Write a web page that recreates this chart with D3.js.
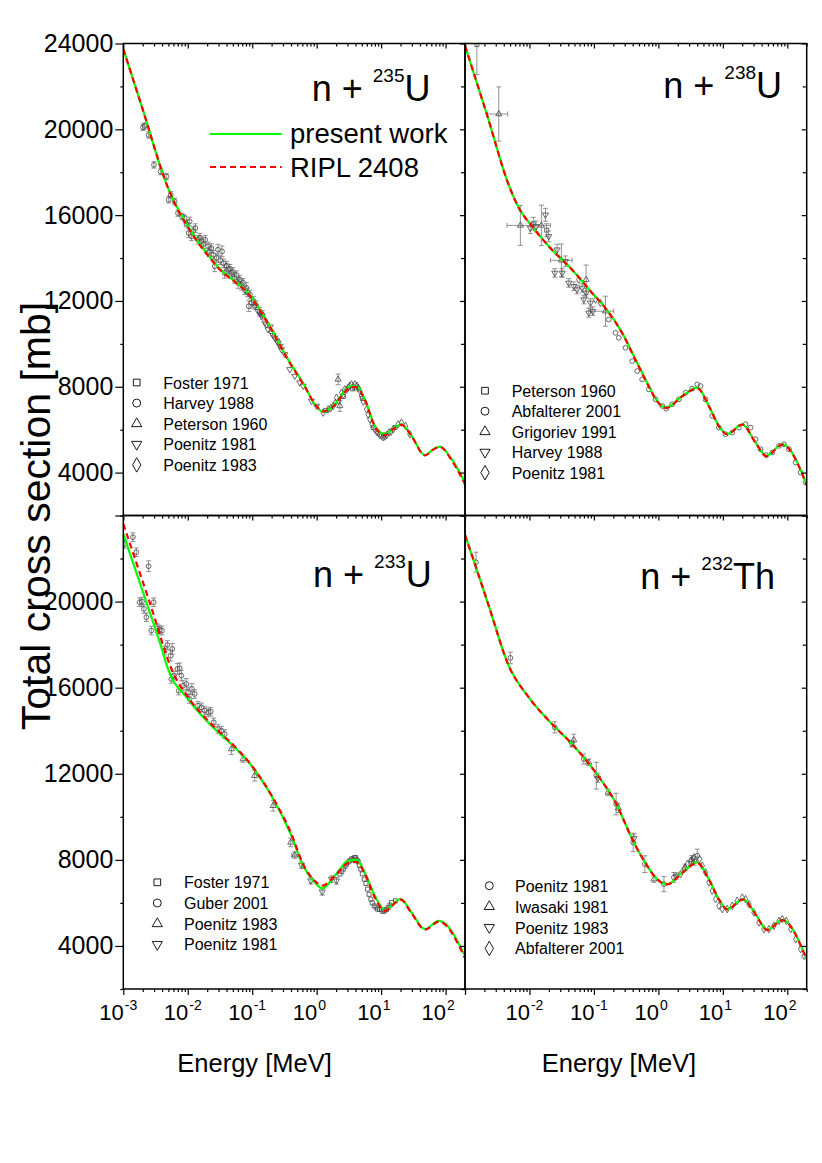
<!DOCTYPE html>
<html><head><meta charset="utf-8">
<script src="https://cdn.jsdelivr.net/npm/d3@7"></script>
<style>body{margin:0;background:#fff} text{font-family:"Liberation Sans",Arial,sans-serif}</style>
</head><body>
<svg id="c" width="822" height="1163"></svg>
<script>
// ---------- axis tick values ----------
const yMajorTicks = [4000, 8000, 12000, 16000, 20000, 24000];
const yMinorTicks = [2000, 6000, 10000, 14000, 18000, 22000];
const xDecadesLeft = [-3, -2, -1, 0, 1, 2];
const xDecadesRight = [-2, -1, 0, 1, 2];

// ---------- n + 235U ----------
const u235_present = [[0.001,23750],[0.002,20930],[0.0049,17300],[0.0065,16500],[0.01,15500],[0.0296,13585],[0.0973,12190],[0.176,10980],[0.36,9275],[0.655,8035],[0.936,7180],[1.26,6826],[1.9,7180],[2.74,7800],[3.3,8035],[4.1,8035],[5.58,7415],[8.0,6175],[11.4,5790],[16.3,6100],[20.7,6250],[29.6,5710],[47.7,4811],[64.4,5090],[81.7,5214],[124,4625],[200,3540]];
const u235_ripl = [[0.001,23750],[0.002,20930],[0.0049,17300],[0.0065,16450],[0.01,15450],[0.0296,13550],[0.0973,12150],[0.176,10950],[0.36,9250],[0.655,8000],[0.936,7200],[1.26,6850],[1.9,7150],[2.74,7750],[3.3,7980],[4.1,7980],[5.58,7400],[8.0,6150],[11.4,5750],[16.3,6080],[20.7,6230],[29.6,5700],[47.7,4800],[64.4,5070],[81.7,5200],[124,4580],[200,3450]];
const u235_foster1971 = [[1.4,6900],[2.6,7550],[3.6,7900],[4.1,7950],[5.1,7450],[7.5,6100],[11.0,5750],[16.5,6100]];
const u235_harvey1988 = [[0.00202,20094,150],[0.00214,20156,150],[0.00247,19737,150],[0.00299,18342,150],[0.0038,18032,150],[0.00466,17800,150],[0.00506,16715,150],[0.00543,16947,150],[0.00627,16637,150],[0.00706,16095,150],[0.00815,15940,150],[0.00895,15862,150],[0.0095,15600,150],[0.0103,15165,200],[0.0107,15707,200],[0.0114,15010,200],[0.0122,15250,200],[0.0131,15397,200],[0.0144,14855,200],[0.0155,14950,200],[0.0163,14777,200],[0.0175,14650,200],[0.0187,14855,200],[0.0207,14545,200],[0.022,14300,200],[0.0232,14467,200],[0.025,14150,200],[0.0262,13615,250],[0.028,14000,200],[0.0295,14390,250],[0.032,13900,200],[0.034,14312,250],[0.036,13750,200],[0.0374,13305,250],[0.04,13650,200],[0.0422,13460,250],[0.045,13500,200],[0.0475,13305,250],[0.05,13350,200],[0.0536,13072,250],[0.057,13200,200],[0.0604,12840,250],[0.064,13000,200],[0.0679,12762,250],[0.072,12850,200],[0.077,12500,200],[0.0813,12607,250],[0.085,12400,200],[0.0883,11755,250],[0.092,12300,200],[0.0973,11910,250],[0.105,12000,200],[0.115,11800,200],[0.13,11500,200],[0.145,11350,200]];
const u235_peterson1960 = [[2.15,8345,250],[2.29,7105,250]];
const u235_poenitz1981 = [[0.109,11755],[0.123,11522],[0.135,11400],[0.139,11290],[0.157,10980],[0.165,10900],[0.176,10670],[0.19,10800],[0.199,10515],[0.21,10400],[0.224,10282],[0.24,10150],[0.252,10050],[0.27,9900],[0.284,9740],[0.32,9507],[0.383,8810],[0.457,8500],[0.547,8190],[0.617,8035],[0.83,7337],[0.993,7105]];
const u235_poenitz1983 = [[1.26,6795],[1.51,6950],[1.65,7000],[1.8,7105],[1.95,7250],[2.03,7492],[2.2,7350],[2.43,7725],[2.55,7600],[2.73,7880],[2.9,7850],[3.08,7957],[3.25,8050],[3.47,8112],[3.7,8000],[3.91,8112],[4.2,8050],[4.4,7957],[4.7,7800],[4.96,7570],[5.3,7300],[5.93,6950],[6.3,6700],[6.68,6485],[7.2,6250],[8.0,6020],[8.5,5900],[9.0,5865],[9.5,5750],[10.1,5710],[10.7,5650],[11.4,5679],[12.2,5750],[13.2,5865],[14.2,5900],[15.4,6020],[18.4,6252],[20.7,6330],[23.9,6175],[27.9,5787]];

// ---------- n + 238U ----------
const u238_present = [[0.001,23900],[0.0022,20668],[0.00476,17413],[0.00665,16405],[0.011,15475],[0.0211,14468],[0.0458,13460],[0.0937,12375],[0.151,11678],[0.274,10515],[0.442,9275],[0.711,8035],[0.957,7337],[1.32,7027],[2.34,7570],[4.0,7957],[6.08,7105],[8.7,6175],[11.7,5790],[20,6253],[32.2,5400],[47.2,4780],[83.6,5322],[200,3440]];
const u238_ripl = [[0.001,23900],[0.0022,20668],[0.00476,17413],[0.00665,16405],[0.011,15475],[0.0211,14468],[0.0458,13460],[0.0937,12375],[0.151,11660],[0.274,10500],[0.442,9250],[0.711,8010],[0.957,7320],[1.32,7010],[2.34,7550],[4.0,7930],[6.08,7090],[8.7,6160],[11.7,5780],[20,6240],[32.2,5390],[47.2,4770],[83.6,5300],[200,3420]];
const u238_peterson1960 = [[0.00153,23950,1400],[0.0115,15600,300],[0.0185,15300,300]];
const u238_abfalterer2001 = [[0.17,11135],[0.216,10515],[0.243,10282],[0.309,9817],[0.392,9197],[0.469,8732],[0.56,8345],[0.711,7880],[0.902,7415],[1.15,7105],[1.32,6981],[1.64,7183],[2.08,7415],[2.64,7725],[3.35,7911],[4.0,8112],[4.51,8035],[5.39,7415],[6.84,6640],[8.68,6098],[11.0,5788],[14.0,5865],[17.8,6098],[22.5,6253],[27.0,6098],[32.2,5555],[38.5,5090],[47.2,4811],[58.5,4935],[74.3,5245],[88.8,5323],[106,5090],[135,4470],[161,4005],[193,3540]];
const u238_grigoriev1991 = [[0.00334,20714,1263,0.0022,0.0046],[0.00723,15522,930,0.00449,0.01164],[0.0153,15522,940,0.011,0.0211],[0.0313,13894,760,0.0211,0.0459],[0.0757,12995,680],[0.151,11523,700,0.0883,0.203]];
const u238_harvey1988 = [[0.0103,15397,250],[0.0127,15475,250],[0.0177,16017,300],[0.0199,15010,250],[0.0268,14390,250],[0.0247,13305,200],[0.0321,13305,200],[0.0361,13848,250],[0.0407,12840,200],[0.0487,12685,200],[0.0548,12530,200],[0.0656,12607,200],[0.0697,12065,200],[0.0757,12375,200],[0.0832,11445,200],[0.0883,11910,200],[0.096,11523,200]];
const u238_poenitz1981 = [[0.0582,12995],[0.106,12065],[0.126,11910]];

// ---------- n + 233U ----------
const u233_present = [[0.001,23148],[0.00228,19970],[0.00389,17878],[0.00494,16870],[0.0101,15475],[0.0262,14080],[0.0475,13382],[0.0973,12375],[0.199,10980],[0.406,9120],[0.617,7725],[0.936,6950],[1.22,6671],[1.91,7260],[3.08,7957],[4.15,8004],[5.58,7415],[8.0,6330],[11.4,5680],[20.2,6175],[29.6,5555],[47.7,4780],[78.9,5168],[200,3540]];
const u233_ripl = [[0.001,23613],[0.00256,19970],[0.0059,16715],[0.0101,15553],[0.0206,14468],[0.0296,14000],[0.0475,13420],[0.0973,12400],[0.199,11000],[0.406,9200],[0.617,7800],[0.936,7020],[1.22,6800],[1.91,7250],[3.08,7850],[4.15,7900],[5.58,7350],[8.0,6250],[11.4,5640],[20.2,6150],[29.6,5520],[47.7,4760],[78.9,5130],[200,3430]];
const u233_foster1971 = [[2.29,7338],[2.45,7450],[2.58,7570],[2.75,7700],[2.9,7803],[3.1,7900],[3.27,7958],[3.5,8050],[3.68,8035],[3.85,8100],[4.0,8113],[4.2,8000],[4.4,7911],[4.6,7750],[4.84,7570],[5.1,7350],[5.46,7105],[5.8,6900],[6.15,6640],[6.5,6400],[6.93,6175],[7.3,6000],[7.8,5865],[8.3,5800],[8.79,5710],[9.4,5700],[10.1,5679],[10.7,5600],[11.4,5633],[12.1,5700],[12.9,5788],[13.7,5900],[14.5,6020],[16.7,6098]];
const u233_guber2001 = [[0.00105,22682,200],[0.00141,22993,200],[0.00159,22295,200],[0.00247,21644,250],[0.00179,19970,200],[0.00195,20001,200],[0.00209,19660,200],[0.00228,19273,200],[0.00272,18653,200],[0.00296,19970,200],[0.00337,18761,200],[0.00366,18699,200],[0.00398,18653,200],[0.00438,17723,200],[0.00482,17986,200],[0.00543,17490,250],[0.00576,17800,250],[0.00556,16405,200],[0.00612,16560,200],[0.0069,16870,250],[0.0075,16901,250],[0.00796,16560,250],[0.00723,15863,200],[0.00845,16095,250],[0.00951,16173,250],[0.0101,15785,250],[0.0107,15475,200],[0.0116,15940,250],[0.0128,15708,200],[0.0144,15165,200],[0.0163,15088,200],[0.0183,14933,200],[0.0207,14855,200],[0.0227,14886,200],[0.0253,14390,200],[0.0295,14080,200],[0.0333,14003,200],[0.0374,13848,200]];
const u233_poenitz1983 = [[0.0475,13150,250],[0.0721,12685,150],[0.109,11910,250],[0.211,10515,250],[0.396,8810,200],[0.457,8221,150,0.41,0.51]];
const u233_poenitz1981 = [[0.581,7756,150],[0.811,7028,150],[1.22,6516,150],[1.70,7105,150],[2.03,7028,150]];

// ---------- n + 232Th ----------
const th232_present = [[0.001,23101],[0.00145,21675],[0.00233,19815],[0.00476,17025],[0.00975,15553],[0.0224,14313],[0.0458,13382],[0.106,12065],[0.216,10670],[0.416,8810],[0.67,7725],[0.902,7183],[1.37,6872],[2.35,7415],[4.0,7880],[6.08,7105],[8.69,6175],[11.7,5710],[20.7,6175],[32.2,5478],[48.9,4750],[83.6,5214],[200,3385]];
const th232_ripl = [[0.001,23101],[0.00145,21675],[0.00233,19815],[0.00476,17025],[0.00975,15553],[0.0224,14313],[0.0458,13382],[0.106,12065],[0.216,10670],[0.416,8810],[0.67,7725],[0.902,7183],[1.37,6860],[2.35,7400],[4.0,7860],[6.08,7090],[8.69,6160],[11.7,5700],[20.7,6160],[32.2,5460],[48.9,4740],[83.6,5200],[200,3360]];
const th232_poenitz1981 = [[0.00148,21830,465],[0.00506,17382,270],[0.0247,14158,260],[0.0697,12685,230],[0.109,11910,620],[0.221,10593,500],[0.406,8810,430],[0.617,7803,390],[1.22,6873,350],[1.74,7183,230],[4.01,8190,310]];
const th232_iwasaki1981 = [[0.0487,13568,270],[0.0832,12530,150],[0.166,11135,150],[0.24,10400,200],[0.851,7105,150],[2.6,7650,150],[3.3,8000,200]];
const th232_poenitz1983 = [[0.045,13400,150],[0.115,11800,200],[0.42,9000,200],[1.9,7250,150],[3.6,7950,200]];
const th232_abfalterer2001 = [[2.21,7337],[2.49,7570],[2.8,7803],[3.16,7958],[3.56,8113],[4.36,8035],[4.8,7725],[5.4,7415],[6.08,6950],[6.84,6563],[7.71,6175],[8.69,5865],[9.79,5710],[11.7,5710],[14.0,5865],[16.7,6098],[20.0,6253],[22.5,6175],[25.4,5943],[30.3,5555],[36.3,5090],[43.4,4780],[51.9,4780],[62.1,4935],[74.3,5168],[83.6,5245],[96.4,5168],[113,4780],[135,4315],[161,3850],[182,3540]];

// ---------- panels ----------
const colX = [[123.3, 465], [465, 806.7]];
const rowY = [[43.5, 515.5], [515.5, 989]];
const panels = [
  {col:0,row:0,title:["n + ","235","U"],tx:311.7,ty:101,present:u235_present,ripl:u235_ripl,
   lx:136.7,ltx:163.3,ly:382.5,ldy:20.6,
   series:[["Foster 1971","square",u235_foster1971],["Harvey 1988","circle",u235_harvey1988],["Peterson 1960","triangle",u235_peterson1960],["Poenitz 1981","down",u235_poenitz1981],["Poenitz 1983","diamond",u235_poenitz1983]]},
  {col:1,row:0,title:["n + ","238","U"],tx:663.3,ty:97.5,present:u238_present,ripl:u238_ripl,
   lx:485,ltx:511.7,ly:390.7,ldy:20.5,
   series:[["Peterson 1960","square",u238_peterson1960],["Abfalterer 2001","circle",u238_abfalterer2001],["Grigoriev 1991","triangle",u238_grigoriev1991],["Harvey 1988","down",u238_harvey1988],["Poenitz 1981","diamond",u238_poenitz1981]]},
  {col:0,row:1,title:["n + ","233","U"],tx:313,ty:586.5,present:u233_present,ripl:u233_ripl,
   lx:157.3,ltx:184,ly:882.3,ldy:20.7,
   series:[["Foster 1971","square",u233_foster1971],["Guber 2001","circle",u233_guber2001],["Poenitz 1983","triangle",u233_poenitz1983],["Poenitz 1981","down",u233_poenitz1981]]},
  {col:1,row:1,title:["n + ","232","Th"],tx:640.3,ty:588.5,present:th232_present,ripl:th232_ripl,
   lx:489.3,ltx:515,ly:885.7,ldy:20.9,
   series:[["Poenitz 1981","circle",th232_poenitz1981],["Iwasaki 1981","triangle",th232_iwasaki1981],["Poenitz 1983","down",th232_poenitz1983],["Abfalterer 2001","diamond",th232_abfalterer2001]]}
];

const svg = d3.select("#c");
const symTypes = {square:d3.symbolSquare, circle:d3.symbolCircle, triangle:d3.symbolTriangle, down:d3.symbolTriangle, diamond:d3.symbolDiamond};

function xTickVals(){
  const major=[], minor=[];
  for (let d=-3; d<=2; d++) for (let m=1; m<=9; m++){
    const v = +(m*Math.pow(10,d)).toPrecision(6);
    if (v > 200.0001) break;
    (m===1?major:minor).push(v);
  }
  return {major, minor};
}
const xt = xTickVals();

function clean(g){ g.select(".domain").remove(); g.selectAll(".tick line").attr("stroke","#000").attr("stroke-width",1.2); return g; }

panels.forEach((p,i)=>{
  const [x0,x1] = colX[p.col], [y0,y1] = rowY[p.row];
  const x = d3.scaleLog().domain([1e-3,200]).range([x0,x1]);
  const y = d3.scaleLinear().domain([2000,24000]).range([y1,y0]);
  const clipId = "clip"+i;
  svg.append("clipPath").attr("id",clipId).append("rect").attr("x",x0).attr("y",y0).attr("width",x1-x0).attr("height",y1-y0);
  const gp = svg.append("g").attr("clip-path",`url(#${clipId})`);

  // experimental data
  p.series.forEach(([name,type,data])=>{
    const g = gp.append("g");
    data.forEach(d=>{
      const cx = x(d[0]), cy = y(d[1]);
      if (d[2]) {
        g.append("line").attr("x1",cx).attr("x2",cx).attr("y1",y(d[1]-d[2])).attr("y2",y(d[1]+d[2])).attr("stroke","#777").attr("stroke-width",0.8);
        [d[1]-d[2], d[1]+d[2]].forEach(v=>g.append("line").attr("x1",cx-2.5).attr("x2",cx+2.5).attr("y1",y(v)).attr("y2",y(v)).attr("stroke","#777").attr("stroke-width",0.8));
      }
      if (d[3]) {
        g.append("line").attr("x1",x(d[3])).attr("x2",x(d[4])).attr("y1",cy).attr("y2",cy).attr("stroke","#777").attr("stroke-width",0.8);
        [d[3],d[4]].forEach(e=>g.append("line").attr("x1",x(e)).attr("x2",x(e)).attr("y1",cy-2.5).attr("y2",cy+2.5).attr("stroke","#777").attr("stroke-width",0.8));
      }
      g.append("path").attr("d",d3.symbol().type(symTypes[type]).size(type==="circle"?18:16)())
        .attr("transform",`translate(${cx},${cy})${type==="down"?" rotate(180)":""}`)
        .attr("fill","none").attr("stroke","#444").attr("stroke-width",0.8);
    });
  });

  // curves
  const line = d3.line().x(d=>x(d[0])).y(d=>y(d[1])).curve(d3.curveMonotoneX);
  gp.append("path").attr("d",line(p.present)).attr("fill","none").attr("stroke","#00ff00").attr("stroke-width",2.2);
  gp.append("path").attr("d",line(p.ripl)).attr("fill","none").attr("stroke","#ff0000").attr("stroke-width",2.2).attr("stroke-dasharray","6,4");

  // frame
  svg.append("rect").attr("x",x0).attr("y",y0).attr("width",x1-x0).attr("height",y1-y0).attr("fill","none").attr("stroke","#000").attr("stroke-width",1.5);

  // top ticks (inward)
  clean(svg.append("g").attr("transform",`translate(0,${y0})`).call(d3.axisBottom(x).tickValues(xt.major).tickSize(5).tickFormat("")));
  clean(svg.append("g").attr("transform",`translate(0,${y0})`).call(d3.axisBottom(x).tickValues(xt.minor).tickSize(3).tickFormat("")));
  // right ticks (inward)
  clean(svg.append("g").attr("transform",`translate(${x1},0)`).call(d3.axisLeft(y).tickValues(yMajorTicks).tickSize(5).tickFormat("")));
  clean(svg.append("g").attr("transform",`translate(${x1},0)`).call(d3.axisLeft(y).tickValues(yMinorTicks).tickSize(4).tickFormat("")));

  if (p.col===0){
    const labVals = p.row===0 ? yMajorTicks : yMajorTicks.filter(v=>v<24000);
    const ga = clean(svg.append("g").attr("transform",`translate(${x0},0)`).call(d3.axisLeft(y).tickValues(yMajorTicks).tickSize(8).tickPadding(2).tickFormat(v=>labVals.includes(v)?d3.format("d")(v):"")));
    ga.selectAll("text").attr("font-size",25).attr("fill","#000").attr("font-family","'Liberation Sans',Arial,sans-serif");
    clean(svg.append("g").attr("transform",`translate(${x0},0)`).call(d3.axisLeft(y).tickValues(yMinorTicks).tickSize(3).tickFormat("")));
  }
  if (p.row===1){
    clean(svg.append("g").attr("transform",`translate(0,${y1})`).call(d3.axisBottom(x).tickValues(xt.major).tickSize(6).tickFormat("")));
    clean(svg.append("g").attr("transform",`translate(0,${y1})`).call(d3.axisBottom(x).tickValues(xt.minor).tickSize(3).tickFormat("")));
    const decs = p.col===0 ? xDecadesLeft : xDecadesRight;
    decs.forEach(d=>{
      const tx = x(Math.pow(10,d));
      svg.append("text").attr("x",tx+0.5).attr("y",1020).attr("text-anchor","end").attr("font-size",22).text("10");
      svg.append("text").attr("x",tx+1.5).attr("y",1010).attr("font-size",14).text(String(d));
    });
  }

  // title
  const t = svg.append("text").attr("x",p.tx).attr("y",p.ty).attr("font-size",36);
  t.append("tspan").text(p.title[0]);
  t.append("tspan").attr("font-size",19).attr("dy",-19).text(p.title[1]);
  t.append("tspan").attr("dy",19).text(p.title[2]);

  // symbol legend
  p.series.forEach(([name,type],k)=>{
    const cy = p.ly + k*p.ldy;
    svg.append("path").attr("d",d3.symbol().type(symTypes[type]).size(type==="circle"?50:type==="diamond"?60:45)())
      .attr("transform",`translate(${p.lx},${cy})${type==="down"?" rotate(180)":""}`)
      .attr("fill","none").attr("stroke","#000").attr("stroke-width",0.9);
    svg.append("text").attr("x",p.ltx).attr("y",cy+6).attr("font-size",16).text(name);
  });
});

// main legend (top-left panel)
const legendItems = [["present work","#00ff00",null,134,142.5],["RIPL 2408","#ff0000","6,4",167,177]];
legendItems.forEach(([lab,col,dash,ly,ty])=>{
  svg.append("line").attr("x1",210).attr("x2",281.7).attr("y1",ly).attr("y2",ly).attr("stroke",col).attr("stroke-width",2.2).attr("stroke-dasharray",dash);
  svg.append("text").attr("x",290).attr("y",ty).attr("font-size",27.5).text(lab);
});

// axis titles
svg.append("text").attr("transform","translate(50,516) rotate(-90)").attr("text-anchor","middle").attr("font-size",41).text("Total cross section [mb]");
svg.append("text").attr("x",177.3).attr("y",1072).attr("font-size",25.5).text("Energy [MeV]");
svg.append("text").attr("x",541.7).attr("y",1072).attr("font-size",25.5).text("Energy [MeV]");
</script>
</body></html>
